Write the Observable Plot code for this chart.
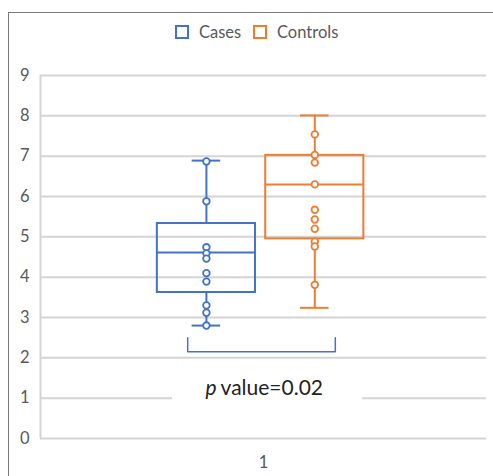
<!DOCTYPE html>
<html><head><meta charset="utf-8">
<script src="https://cdn.jsdelivr.net/npm/d3@7"></script>
<script src="https://cdn.jsdelivr.net/npm/@observablehq/plot@0.6"></script>
<style>
body{margin:0;background:#fff;overflow:hidden}
#wrap{position:relative;width:493px;height:476px;overflow:hidden;font-family:Lato,sans-serif;background:#fff}
#border{position:absolute;left:8px;top:12px;width:540px;height:540px;border:1.5px solid #7a7a7a;box-sizing:border-box}
.item{position:absolute;top:24px;height:16px;display:flex;align-items:center;font-size:16.5px;color:#595959;white-space:nowrap}
.sw{width:10px;height:10px;border:2px solid;margin-right:10px}
#chart{position:absolute;left:0;top:50px}
</style></head>
<body>
<div id="wrap">
  <div id="border"></div>
  <div id="legend"></div>
  <div id="chart"></div>
</div>
<script>
// ---- data ----
const categories = ["1"];
const series = ["Cases", "Controls"];
const colors = ["#4472C4", "#ED7D31"];
const casesValues = [6.87, 5.88, 4.74, 4.59, 4.46, 4.10, 3.89, 3.30, 3.12, 2.80];
const controlsValues = [7.54, 7.03, 6.84, 6.30, 5.67, 5.43, 5.20, 4.88, 4.76, 3.81];
const minValues = [2.80, 3.24];
const q1Values = [3.62, 4.95];
const medianValues = [4.61, 6.30];
const q3Values = [5.33, 7.02];
const maxValues = [6.89, 8.01];
const yTicks = [0, 1, 2, 3, 4, 5, 6, 7, 8, 9];
const pSymbol = "p";
const pText = "value=0.02";

// ---- layout constants (not data) ----
const xDomain = [0.5, 1.5];
const yDomain = [0, 9];
const groupX = {Cases: 0.872, Controls: 1.115};
const boxHalf = 0.110;
const capHalf = 0.032;
const bracketX = [0.830, 1.161];
const bracketY = [2.5, 2.15];
const gap = {x1: 0.796, x2: 1.222, y1: 0.85, y2: 1.65};
const labelPos = {x: 0.897, y: 1.24};

// ---- tables built from arrays ----
const stats = series.map((s, i) => ({series: s, min: minValues[i], q1: q1Values[i], median: medianValues[i], q3: q3Values[i], max: maxValues[i]}));
const points = [
  ...casesValues.map(v => ({series: "Cases", value: v})),
  ...controlsValues.map(v => ({series: "Controls", value: v}))
];
const bracket = [
  {x: bracketX[0], y: bracketY[0]}, {x: bracketX[0], y: bracketY[1]},
  {x: bracketX[1], y: bracketY[1]}, {x: bracketX[1], y: bracketY[0]}
];
const gx = d => groupX[d.series];

// legend
const legend = document.getElementById("legend");
const legendLeft = [175, 253];
series.forEach((s, i) => {
  const it = document.createElement("div");
  it.className = "item";
  it.style.left = legendLeft[i] + "px";
  const sw = document.createElement("span");
  sw.className = "sw";
  sw.style.borderColor = colors[i];
  const t = document.createElement("span");
  t.textContent = s;
  it.appendChild(sw); it.appendChild(t);
  legend.appendChild(it);
});

const chart = Plot.plot({
  width: 493,
  height: 426,
  marginTop: 25,
  marginBottom: 38,
  marginLeft: 40,
  marginRight: 7,
  style: {fontFamily: "Lato, sans-serif", fontSize: "16.5px", color: "#595959", background: "transparent"},
  x: {domain: xDomain, ticks: [1], tickFormat: () => categories[0], tickSize: 0, tickPadding: 18, label: null},
  y: {domain: yDomain, ticks: yTicks, tickSize: 0, tickPadding: 11, label: null},
  color: {domain: series, range: colors},
  marks: [
    Plot.ruleY(yTicks, {stroke: "#d4d4d4", strokeWidth: 2}),
    Plot.ruleX([xDomain[0]], {y1: yDomain[0], y2: yDomain[1], stroke: "#d4d4d4", strokeWidth: 2}),
    Plot.rect([gap], {x1: "x1", x2: "x2", y1: "y1", y2: "y2", fill: "white"}),
    Plot.ruleX(stats, {x: gx, y1: "q3", y2: "max", stroke: "series", strokeWidth: 2}),
    Plot.ruleX(stats, {x: gx, y1: "min", y2: "q1", stroke: "series", strokeWidth: 2}),
    Plot.ruleY(stats, {y: "max", x1: d => gx(d) - capHalf, x2: d => gx(d) + capHalf, stroke: "series", strokeWidth: 2}),
    Plot.ruleY(stats, {y: "min", x1: d => gx(d) - capHalf, x2: d => gx(d) + capHalf, stroke: "series", strokeWidth: 2}),
    Plot.rect(stats, {x1: d => gx(d) - boxHalf, x2: d => gx(d) + boxHalf, y1: "q1", y2: "q3", fill: "none", stroke: "series", strokeWidth: 2}),
    Plot.ruleY(stats, {y: "median", x1: d => gx(d) - boxHalf, x2: d => gx(d) + boxHalf, stroke: "series", strokeWidth: 2}),
    Plot.dot(points, {x: gx, y: "value", r: 3.3, fill: "white", stroke: "series", strokeWidth: 1.8}),
    Plot.line(bracket, {x: "x", y: "y", stroke: colors[0], strokeWidth: 1.5}),
    Plot.text([pSymbol], {x: () => labelPos.x, y: () => labelPos.y, text: d => d, textAnchor: "end", fontStyle: "italic", fontSize: 21, fill: "#222", dx: -1}),
    Plot.text([pText], {x: () => labelPos.x, y: () => labelPos.y, text: d => d, textAnchor: "start", fontSize: 21, fill: "#222", dx: 3})
  ]
});
document.getElementById("chart").appendChild(chart);
</script>
</body></html>
